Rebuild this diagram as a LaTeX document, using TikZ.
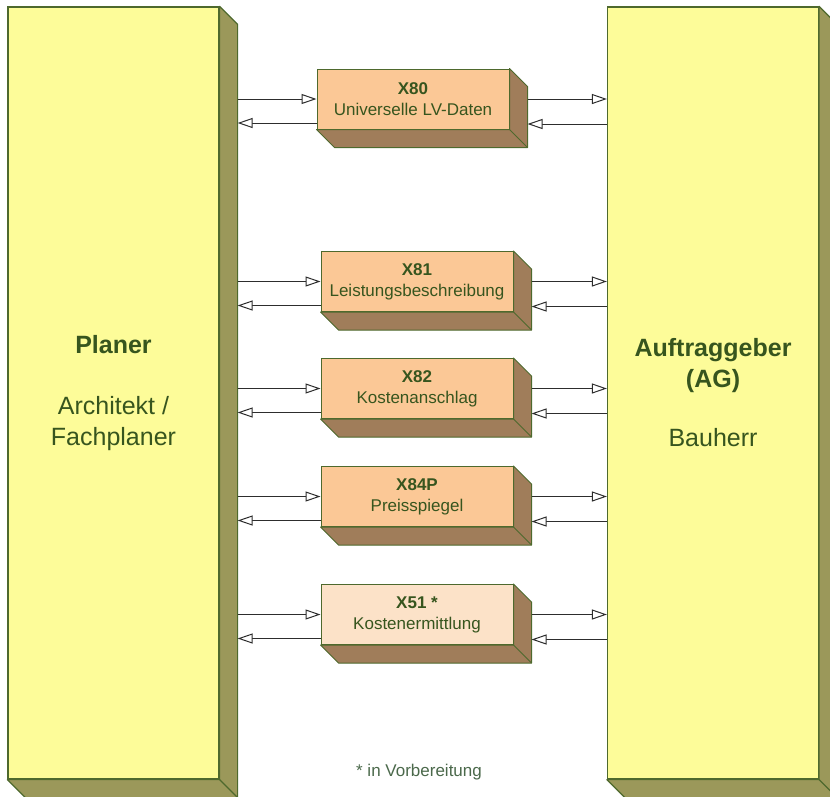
\documentclass[tikz,border=0pt]{standalone}
\usepackage{fontspec}
\setmainfont{Liberation Sans}
\usetikzlibrary{arrows.meta}
\definecolor{padfront}{RGB}{253,252,153}
\definecolor{padside}{RGB}{155,152,90}
\definecolor{boxfront}{RGB}{251,200,150}
\definecolor{boxpale}{RGB}{252,226,200}
\definecolor{boxside}{RGB}{160,125,90}
\definecolor{edgegreen}{RGB}{78,105,45}
\definecolor{labelgreen}{RGB}{55,85,30}
\definecolor{notegreen}{RGB}{75,105,75}
\definecolor{arrowgrey}{RGB}{45,45,45}

\begin{document}
\begin{tikzpicture}[x=1pt,y=-1pt,
 party/.style={draw=edgegreen,line width=1.2pt,fill=padfront,
 minimum width=211pt,minimum height=772pt,inner sep=0pt,
 text=labelgreen,align=center,font=\fontsize{25}{30.5}\selectfont},
 format/.style={draw=edgegreen,line width=1pt,fill=boxfront,
 minimum width=192pt,minimum height=60pt,inner sep=0pt,
 text=labelgreen,align=center,font=\fontsize{17}{21}\selectfont},
 flow/.style={draw=arrowgrey,line width=1pt,
 -{Triangle[open,length=15pt,width=10pt,fill=white]}}]
 \clip (0,0) rectangle (830,796);
 \fill[white] (0,0) rectangle (830,796);

 \node[party] (planer) at (113.5,393)
 {\textbf{Planer}\\[31pt]Architekt /\\Fachplaner};
 \node[party] (auftrag) at (713,393)
 {\textbf{Auftraggeber}\\\textbf{(AG)}\\[29pt]Bauherr};

 \node[format] (x80) at (413,99) {\textbf{X80}\\Universelle LV-Daten};
 \node[format] (x81) at (417,281.5) {\textbf{X81}\\Leistungsbeschreibung};
 \node[format] (x82) at (417,388.5) {\textbf{X82}\\Kostenanschlag};
 \node[format] (x84p) at (417,496.5) {\textbf{X84P}\\Preisspiegel};
 \node[format,fill=boxpale] (x51) at (417,614.5) {\textbf{X51 *}\\Kostenermittlung};

 \foreach \n/\c/\w in {planer/padside/1.2pt,auftrag/padside/1.2pt,
 x80/boxside/1pt,x81/boxside/1pt,x82/boxside/1pt,x84p/boxside/1pt,x51/boxside/1pt}{
 \filldraw[fill=\c,draw=edgegreen,line width=\w,line join=round]
 (\n.north east) -- ++(18,18) -- ([shift={(18,18)}]\n.south east)
 -- ([shift={(18,18)}]\n.south west) -- (\n.south west)
 -- (\n.south east) -- cycle;
 \draw[edgegreen,line width=\w] (\n.south east) -- ++(18,18);
 }

 \coordinate (planerside) at ([xshift=18pt]planer.east);
 \foreach \n in {x80,x81,x82,x84p,x51}{
 \coordinate (\n-lo) at ([yshift=-24pt]\n.west);
 \coordinate (\n-side) at ([xshift=18pt]\n.east);
 \coordinate (\n-side-lo) at ([xshift=18pt,yshift=-25pt]\n.east);
 \draw[flow] (planerside |- \n.west) -- (\n.west);
 \draw[flow] (\n-lo) -- (planerside |- \n-lo);
 \draw[flow] (\n-side) -- (auftrag.west |- \n-side);
 \draw[flow] (auftrag.west |- \n-side-lo) -- (\n-side-lo);
 }

 \node[text=notegreen,font=\fontsize{17}{20}\selectfont] (note) at (419,772)
 {* in Vorbereitung};
\end{tikzpicture}
\end{document}
